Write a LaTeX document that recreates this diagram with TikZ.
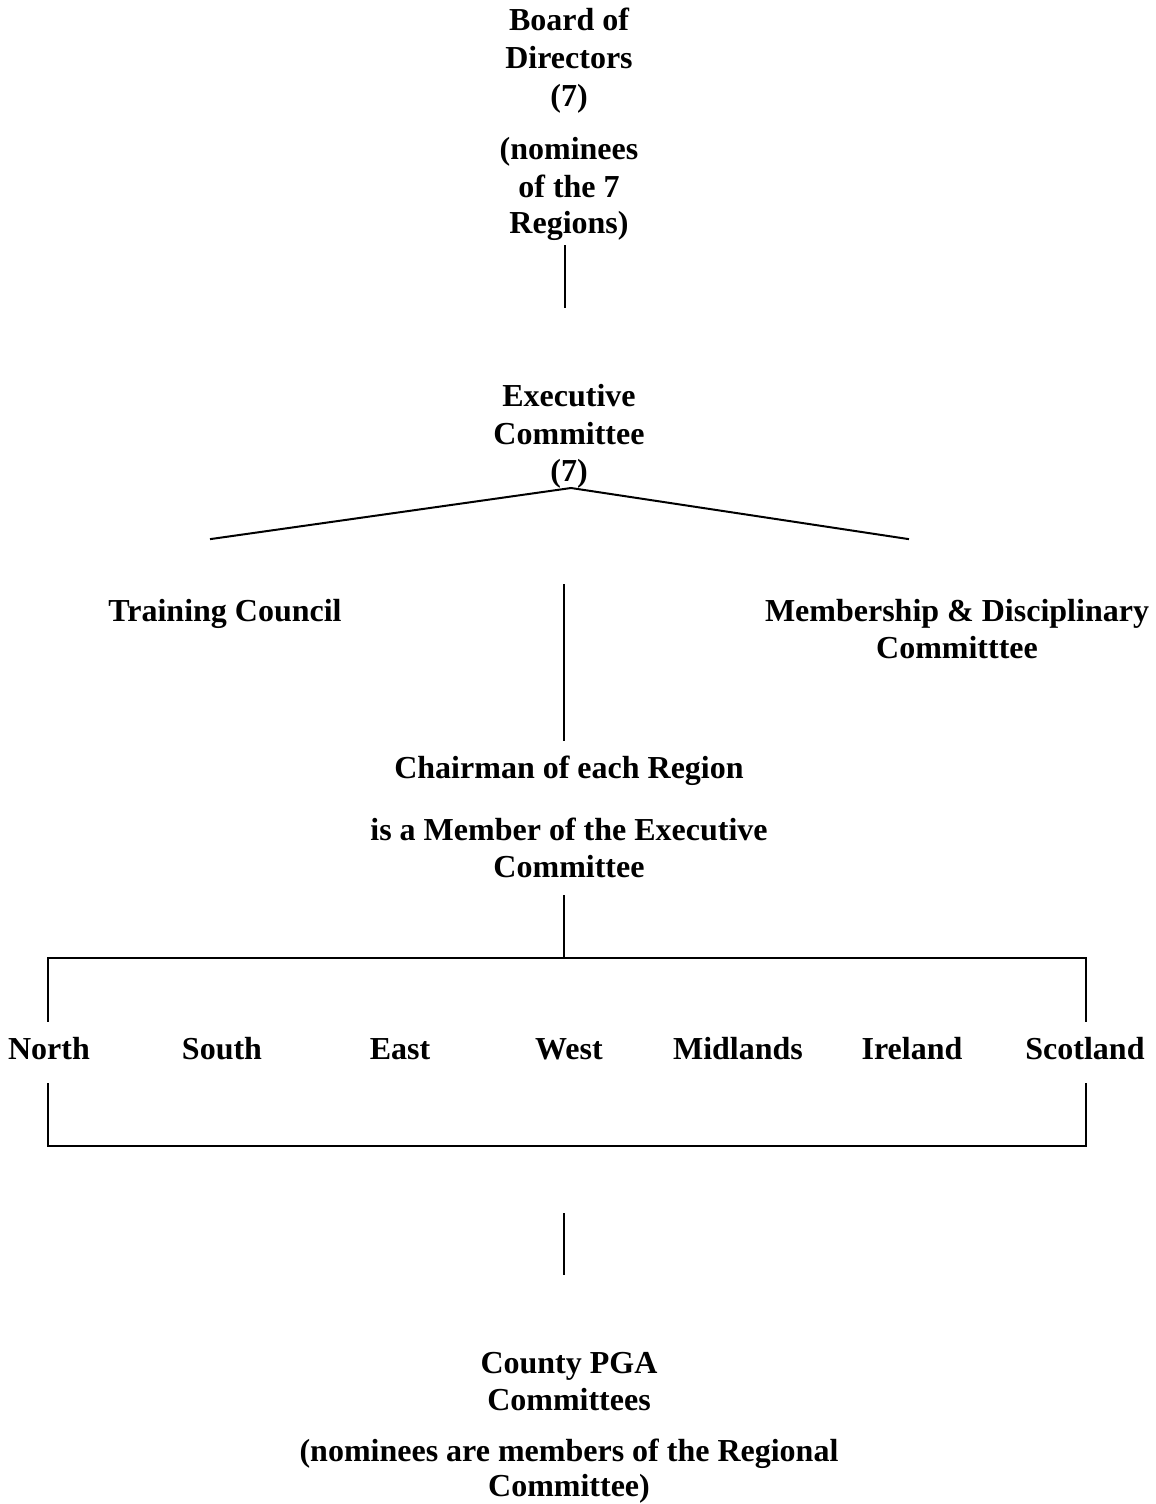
\documentclass[tikz,border=0pt]{standalone}
\usepackage{fontspec}
\setmainfont{Liberation Serif}
\begin{document}
\begin{tikzpicture}[x=1pt,y=-1pt,
  lbl/.style={font=\bfseries\fontsize{32}{37}\selectfont, anchor=base, inner sep=0pt},
  conn/.style={line width=2pt, line cap=rect}]
\useasboundingbox (0,0) rectangle (1156,1504);
% Board
\node[lbl] (b1) at (569,31) {Board of};
\node[lbl] (b2) at (569,68) {Directors};
\node[lbl] (b3) at (569,106) {(7)};
\node[lbl] (b4) at (569,159) {(nominees};
\node[lbl] (b5) at (569,197) {of the 7};
\node[lbl] (b6) at (569,233) {Regions)};
% Executive
\node[lbl] (e1) at (569,406) {Executive};
\node[lbl] (e2) at (569,444) {Committee};
\node[lbl] (e3) at (569,481) {(7)};
% side committees
\node[lbl] (tc) at (225,621) {Training Council};
\node[lbl] (md1) at (957,621) {Membership \& Disciplinary};
\node[lbl] (md2) at (957,658) {Committtee};
% Chairman
\node[lbl] (c1) at (569,778) {Chairman of each Region};
\node[lbl] (c2) at (569,840) {is a Member of the Executive};
\node[lbl] (c3) at (569,877) {Committee};
% Regions
\node[lbl] (north) at (49,1059) {North};
\node[lbl] (south) at (222,1059) {South};
\node[lbl] (east) at (400,1059) {East};
\node[lbl] (west) at (569,1059) {West};
\node[lbl] (mid) at (738,1059) {Midlands};
\node[lbl] (ire) at (912,1059) {Ireland};
\node[lbl] (sco) at (1085,1059) {Scotland};
% County
\node[lbl] (k1) at (569,1373) {County PGA};
\node[lbl] (k2) at (569,1410) {Committees};
\node[lbl] (k3) at (569,1461) {(nominees are members of the Regional};
\node[lbl] (k4) at (569,1496) {Committee)};
% connector coordinates
\coordinate (l1a) at (565,246);
\coordinate (l1b) at (565,307);
\coordinate (apex) at (571,488);
\coordinate (tl) at (211,539);
\coordinate (tr) at (908,539);
\coordinate (l2a) at (564,585);
\coordinate (l2b) at (564,740);
\coordinate (l3a) at (564,896);
\coordinate (bl) at (48,958);
\coordinate (br) at (1086,958);
\coordinate (blb) at (48,1021);
\coordinate (brb) at (1086,1021);
\coordinate (cl) at (48,1084);
\coordinate (cr) at (1086,1084);
\coordinate (dl) at (48,1146);
\coordinate (dr) at (1086,1146);
\coordinate (l4a) at (564,1214);
\coordinate (l4b) at (564,1274);
\draw[conn] (l1a) -- (l1b);
\draw[conn] (tl) -- (apex) -- (tr);
\draw[conn] (l2a) -- (l2b);
\draw[conn] (l3a) -- (l3a |- bl);
\draw[conn] (blb) -- (bl) -- (br) -- (brb);
\draw[conn] (cl) -- (dl) -- (dr) -- (cr);
\draw[conn] (l4a) -- (l4b);
\end{tikzpicture}
\end{document}
